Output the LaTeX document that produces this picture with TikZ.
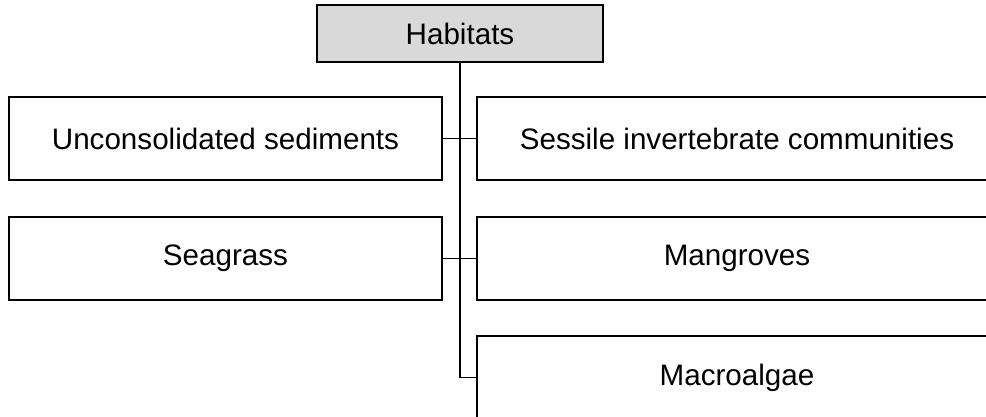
\documentclass[tikz,border=0pt]{standalone}
\usepackage{fontspec}
\setmainfont{Liberation Sans}
\usetikzlibrary{positioning}

\begin{document}
\begin{tikzpicture}[x=1pt, y=-1pt,
  box/.style={draw, line width=1.5pt, inner sep=0pt, align=center,
              font=\fontsize{29.6}{34}\selectfont, minimum height=83pt},
  leftbox/.style={box, minimum width=433pt},
  rightbox/.style={box, minimum width=520pt},
  top/.style={box, fill=black!15, minimum width=286pt, minimum height=57pt},
  link/.style={line width=1.5pt}
]
\useasboundingbox (0,0) rectangle (986,416);
\clip (0,0) rectangle (986,416);
\node[top] (hab) at (460,33.5) {Habitats};
\node[leftbox] (unc) at (225.5,138.5) {Unconsolidated sediments};
\node[leftbox] (sea) at (225.5,258.5) {Seagrass};
\node[rightbox] (ses) at (737,138.5) {Sessile invertebrate communities};
\node[rightbox] (man) at (737,258.5) {Mangroves};
\node[rightbox] (mac) at (737,377.5) {Macroalgae};
% trunk and branches
\draw[link] (hab.south) |- (mac.west);
\draw[link] (unc.east) -- (ses.west);
\draw[link] (sea.east) -- (man.west);
\end{tikzpicture}
\end{document}
